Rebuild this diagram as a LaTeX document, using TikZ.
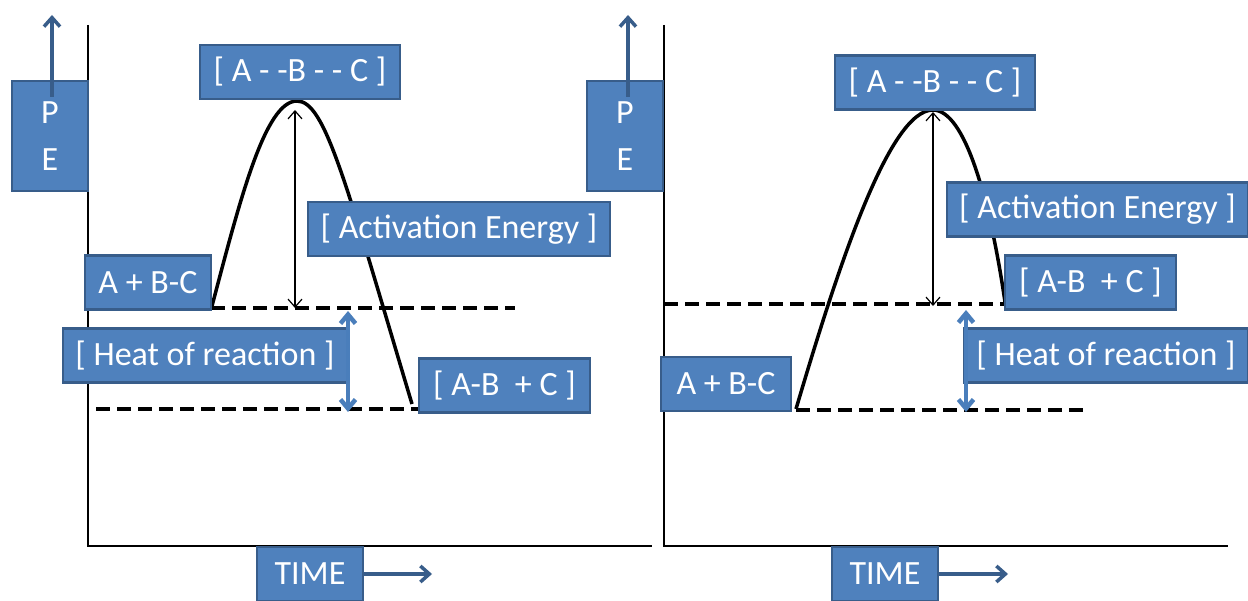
\documentclass[tikz,border=0pt]{standalone}
\usepackage{fontspec}
\setmainfont{Carlito}
\usetikzlibrary{arrows.meta, positioning}

\definecolor{boxblue}{HTML}{4F81BD}
\definecolor{boxedge}{HTML}{385D8A}
\definecolor{heatblue}{HTML}{4A7EBB}

\begin{document}
\begin{tikzpicture}[
    x=1pt, y=-1pt,
    box/.style={
        rectangle,
        draw=boxedge,
        fill=boxblue,
        line width=2.5pt,
        text=white,
        align=center,
        inner sep=0pt,
        minimum height=54pt,
        font=\fontsize{34}{41}\selectfont
    },
    axis/.style={
        draw,
        line width=2.5pt,
        color=black
    },
    level/.style={
        draw,
        line width=3.5pt,
        dash pattern=on 14pt off 7pt
    },
    curve/.style={
        draw,
        line width=3.5pt
    },
    gap/.style={
        draw,
        line width=1.2pt,
        {Straight Barb[length=8pt,width=14pt]}-{Straight Barb[length=8pt,width=14pt]}
    },
    heat/.style={
        draw=heatblue,
        line width=4.5pt,
        {Straight Barb[length=9pt,width=15pt]}-{Straight Barb[length=9pt,width=15pt]}
    },
    line/.style={
        draw=boxedge,
        line width=3.5pt,
        -{Straight Barb[length=9pt,width=16pt]}
    }
]
\useasboundingbox (0,0) rectangle (1248,601);

% Axes
\path [axis] (88,25) -- (88,546) -- (652,546);
\path [axis] (664,25) -- (664,546) -- (1228,546);

% Left diagram
\coordinate (startL) at (212,306);
\coordinate (peakL) at (297,101);
\coordinate (endL) at (412,404);
\path [level] (211,308) -- (515,308);
\path [level] (96,409) -- (418,409);
\path [curve] (startL) .. controls (240,200) and (265,101) .. (peakL)
    .. controls (325,101) and (345,180) .. (endL);

\node [box, minimum width=76pt, minimum height=110pt] (peL) at (50,136) {\raisebox{-3pt}{P}\\[6pt]\raisebox{-3pt}{E}};
\node [box, minimum width=200pt] (tsL) at (300,72) {[ A - -B - - C ]};
\node [box, minimum width=126pt] (reacL) at (148,282.5) {A + B-C};
\node [box, minimum width=302pt] (actL) at (459,229) {[ Activation Energy ]};
\node [box, minimum width=284pt] (heatL) at (205,355.5) {[ Heat of reaction ]};
\node [box, minimum width=171pt] (prodL) at (504.5,385.5) {[ A-B\ \ + C ]};
\node [box, minimum width=106pt] (timeL) at (310,574) {TIME};

\coordinate (peTopL) at (52,15);
\coordinate (timeTipL) at (432,574);
\path [gap] (295,110) -- (295,308);
\path [heat] (348,311) -- (348,412);
\path [line] (52,97) -- (peTopL);
\path [line] (timeL.east) -- (timeTipL);

% Right diagram
\coordinate (startR) at (796,409);
\coordinate (peakR) at (933,110);
\coordinate (endR) at (1005,302);
\path [level] (664,304) -- (1005,304);
\path [level] (796,410) -- (1083,410);
\path [curve] (startR) .. controls (840,260) and (890,110) .. (peakR)
    .. controls (965,110) and (990,200) .. (endR);

\node [box, minimum width=76pt, minimum height=110pt] (peR) at (625,136) {\raisebox{-3pt}{P}\\[6pt]\raisebox{-3pt}{E}};
\node [box, minimum width=200pt] (tsR) at (935,82.5) {[ A - -B - - C ]};
\node [box, minimum width=301pt] (actR) at (1097.5,209.5) {[ Activation Energy ]};
\node [box, minimum width=171pt] (prodR) at (1090.5,282.5) {[ A-B\ \ + C ]};
\node [box, minimum width=284pt] (heatR) at (1106,355.5) {[ Heat of reaction ]};
\node [box, minimum width=130pt] (reacR) at (726,384) {A + B-C};
\node [box, minimum width=106pt] (timeR) at (885,574) {TIME};

\coordinate (peTopR) at (628,15);
\coordinate (timeTipR) at (1008,574);
\path [gap] (933,112) -- (933,306);
\path [heat] (966,310) -- (966,412);
\path [line] (628,97) -- (peTopR);
\path [line] (timeR.east) -- (timeTipR);

\end{tikzpicture}
\end{document}
